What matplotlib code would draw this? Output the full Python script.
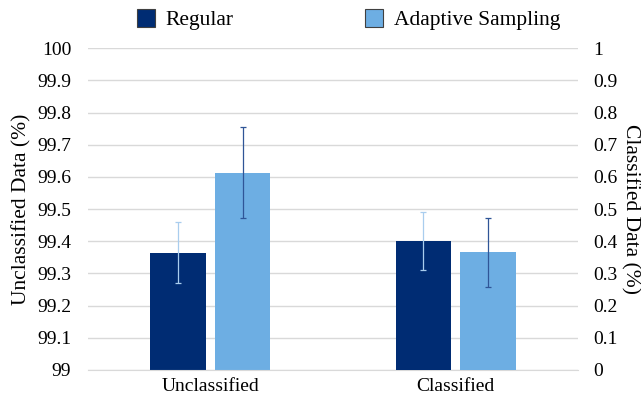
import numpy as np
import matplotlib.pyplot as plt
from matplotlib.patches import Patch

plt.rcParams['font.family'] = ['Liberation Serif', 'DejaVu Serif']

# data
series = ['Regular', 'Adaptive Sampling']
unclass_vals = [99.365, 99.613]
unclass_err = [0.095, 0.142]
class_vals = [0.40, 0.366]
class_err = [0.09, 0.107]
left_ticks = [99, 99.1, 99.2, 99.3, 99.4, 99.5, 99.6, 99.7, 99.8, 99.9, 100]
left_labels = ['99', '99.1', '99.2', '99.3', '99.4', '99.5', '99.6', '99.7', '99.8', '99.9', '100']
right_ticks = [0, 0.1, 0.2, 0.3, 0.4, 0.5, 0.6, 0.7, 0.8, 0.9, 1]
right_labels = ['0', '0.1', '0.2', '0.3', '0.4', '0.5', '0.6', '0.7', '0.8', '0.9', '1']

bar_colors = ['#002c73', '#6daee3']
err_colors = ['#a9cdee', '#2f5597']

fig = plt.figure(figsize=(6.41, 3.98), dpi=100)
ax = fig.add_axes([0.137, 0.0704, 0.765, 0.8086])
ax2 = ax.twinx()

w = 0.225
offs = [-0.1325, 0.1325]

for i in range(2):
    ax.bar(0 + offs[i], unclass_vals[i] - 99, bottom=99, width=w, color=bar_colors[i], zorder=2)
    ax.errorbar(0 + offs[i], unclass_vals[i], yerr=unclass_err[i], color=err_colors[i],
                lw=0.9, capsize=2.5, capthick=0.9, zorder=3)
    ax2.bar(1 + offs[i], class_vals[i], width=w, color=bar_colors[i], zorder=2)
    ax2.errorbar(1 + offs[i], class_vals[i], yerr=class_err[i], color=err_colors[i],
                 lw=0.9, capsize=2.5, capthick=0.9, zorder=3)

ax.set_xlim(-0.5, 1.5)
ax.set_ylim(99, 100)
ax2.set_ylim(0, 1)
ax.set_yticks(left_ticks)
ax.set_yticklabels(left_labels)
ax2.set_yticks(right_ticks)
ax2.set_yticklabels(right_labels)
ax.set_xticks([0, 1])
ax.set_xticklabels(['Unclassified', 'Classified'])

ax.grid(axis='y', color='#d9d9d9', lw=1, zorder=0)
ax.set_axisbelow(True)
for a in (ax, ax2):
    for s in ['top', 'left', 'right']:
        a.spines[s].set_visible(False)
    a.spines['bottom'].set_color('#d9d9d9')
ax2.spines['bottom'].set_visible(False)

ax.tick_params(axis='y', length=0, labelsize=14, pad=12)
ax2.tick_params(axis='y', length=0, labelsize=14, pad=11)
ax.tick_params(axis='x', length=0, labelsize=14, pad=6)

ax.set_ylabel('Unclassified Data (%)', fontsize=15.5, labelpad=4)
ax2.set_ylabel('Classified Data (%)', fontsize=15.5, rotation=270, labelpad=16)

handles = [Patch(facecolor=bar_colors[i], edgecolor='#404040', lw=0.8) for i in range(2)]
fig.legend(handles, series, loc='upper left', bbox_to_anchor=(0.183, 1.025), ncol=2,
           frameon=False, fontsize=15.5, columnspacing=6.1, handlelength=0.85,
           handleheight=0.85, handletextpad=0.5)

fig.savefig('out.png', dpi=100)
